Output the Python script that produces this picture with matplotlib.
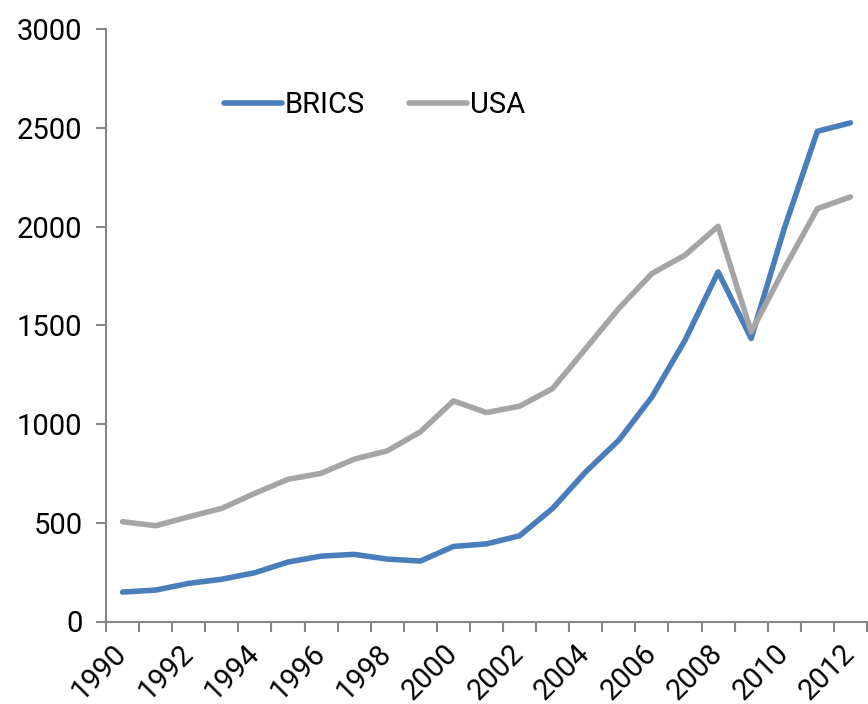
import matplotlib
matplotlib.use("Agg")
import matplotlib.pyplot as plt
import numpy as np

years = list(range(1990, 2013))
brics = [149, 159, 193, 214, 247, 301, 331, 340, 316, 306, 380, 393, 434, 573,
         758, 918, 1137, 1424, 1770, 1433, 1990, 2482, 2525]
usa = [505, 485, 530, 573, 649, 720, 750, 822, 864, 960, 1117, 1058, 1090, 1180,
       1382, 1585, 1762, 1855, 2001, 1466, 1787, 2090, 2150]
yticks = [0, 500, 1000, 1500, 2000, 2500, 3000]
xlabels = [str(y) if y % 2 == 0 else "" for y in years]

plt.rcParams['font.family'] = ['Roboto', 'DejaVu Sans']

fig = plt.figure(figsize=(8.68, 7.04), dpi=100)
ax = fig.add_axes([106/868, (704-621.5)/704, (867-106)/868, (621.5-29)/704])

x = np.arange(len(years))
ax.plot(x, brics, color='#4A7EBB', lw=4.0, solid_capstyle='round', solid_joinstyle='round', label='BRICS')
ax.plot(x, usa, color='#A5A5A5', lw=4.0, solid_capstyle='round', solid_joinstyle='round', label='USA')

ax.set_xlim(-0.5, len(years) - 0.5)
ax.set_ylim(0, 3000)
ax.set_yticks(yticks)
ax.set_yticklabels([str(v) for v in yticks], fontsize=21)

# category ticks between categories
ax.set_xticks(np.arange(-0.5, len(years), 1.0))
ax.set_xticklabels([])
ax.set_xticks(x, minor=True)
ax.set_xticklabels(xlabels, minor=True, rotation=45, ha='right', va='center',
                   rotation_mode='anchor', fontsize=21)
ax.tick_params(axis='x', which='minor', length=0, pad=20)
ax.tick_params(axis='x', which='major', length=7, width=1.5, color='#868686', direction='out')
ax.tick_params(axis='y', length=7, width=1.5, color='#868686', pad=10)

for s in ['top', 'right']:
    ax.spines[s].set_visible(False)
for s in ['left', 'bottom']:
    ax.spines[s].set_color('#868686')
    ax.spines[s].set_linewidth(1.5)

leg = ax.legend(loc='upper left', bbox_to_anchor=(0.12, 0.94), ncol=2, frameon=False,
                fontsize=21, handlelength=2.0, handletextpad=0.1, columnspacing=1.5)

fig.savefig('out.png', dpi=100)
